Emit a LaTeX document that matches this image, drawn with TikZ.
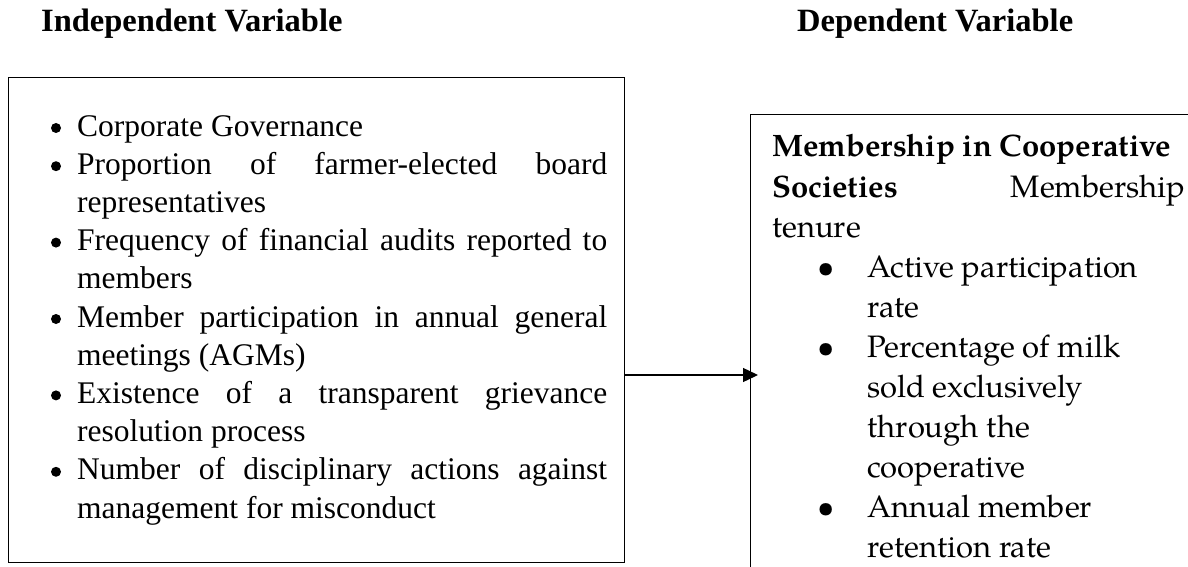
\documentclass[tikz,border=0pt]{standalone}
\usepackage{fontspec}
\setmainfont{Liberation Serif}
\newfontfamily\palfont{TeX Gyre Pagella}
\usetikzlibrary{arrows.meta}
\begin{document}
\begin{tikzpicture}[x=1pt,y=-1pt,
  boxframe/.style={draw=black,line width=1.3pt,inner sep=0pt,anchor=north west},
  lt/.style={inner sep=0pt,anchor=base west,font=\fontsize{31.5}{38}\selectfont},
  lbul/.style={circle,fill=black,inner sep=0pt,minimum size=10pt},
  rt/.style={inner sep=0pt,anchor=base west,font=\palfont\fontsize{31}{40}\selectfont},
  rbul/.style={inner sep=0pt,anchor=base,font=\palfont\fontsize{31}{40}\selectfont},
  ttl/.style={inner sep=0pt,anchor=base west,font=\bfseries\fontsize{32.5}{38}\selectfont},
  conn/.style={line width=1.4pt,-{Triangle[length=15pt,width=14pt]},shorten >=-8pt}]
\useasboundingbox (0,0) rectangle (1188,567);

% titles
\node[ttl] (tiv) at (41,32) {Independent Variable};
\node[ttl] (tdv) at (797,32) {Dependent Variable};

% boxes
\node[boxframe,minimum width=616pt,minimum height=485pt] (iv) at (8,77) {};
\begin{scope}
\clip (0,0) rectangle (1188,567);
\node[boxframe,minimum width=520pt,minimum height=540pt] (dv) at (750,114) {};
\end{scope}

% connector
\coordinate (ay) at (0,375);
\draw[conn] (iv.east |- ay) -- (dv.west |- ay);

% left list
\node[lbul] (lb1) at (56,128) {};
\node[lt] (l1) at (77,136) {Corporate Governance};
\node[lbul] (lb2) at (56,166.2) {};
\node[lt] (l2) at (77,174.2) {\makebox[530pt][s]{Proportion of farmer-elected board}};
\node[lt] (l3) at (77,212.4) {representatives};
\node[lbul] (lb3) at (56,242.6) {};
\node[lt] (l4) at (77,250.6) {\makebox[530pt][s]{Frequency of financial audits reported to}};
\node[lt] (l5) at (77,288.8) {members};
\node[lbul] (lb4) at (56,319) {};
\node[lt] (l6) at (77,327) {\makebox[530pt][s]{Member participation in annual general}};
\node[lt] (l7) at (77,365.2) {meetings (AGMs)};
\node[lbul] (lb5) at (56,395.4) {};
\node[lt] (l8) at (77,403.4) {\makebox[530pt][s]{Existence of a transparent grievance}};
\node[lt] (l9) at (77,441.6) {resolution process};
\node[lbul] (lb6) at (56,471.8) {};
\node[lt] (l10) at (77,479.8) {\makebox[530pt][s]{Number of disciplinary actions against}};
\node[lt] (l11) at (77,518) {management for misconduct};

% right list
\node[rt] (r1) at (772,157) {\textbf{Membership in Cooperative}};
\node[rt] (r2) at (772,197) {\makebox[413pt][l]{\textbf{Societies}\hfill Membership}};
\node[rt] (r3) at (772,237) {tenure};
\node[rbul] (rb1) at (826,277) {•};
\node[rt] (r4) at (867,277) {Active participation};
\node[rt] (r5) at (867,317) {rate};
\node[rbul] (rb2) at (826,357) {•};
\node[rt] (r6) at (867,357) {Percentage of milk};
\node[rt] (r7) at (867,397) {sold exclusively};
\node[rt] (r8) at (867,437) {through the};
\node[rt] (r9) at (867,477) {cooperative};
\node[rbul] (rb3) at (826,517) {•};
\node[rt] (r10) at (867,517) {Annual member};
\node[rt] (r11) at (867,557) {retention rate};
\end{tikzpicture}
\end{document}
